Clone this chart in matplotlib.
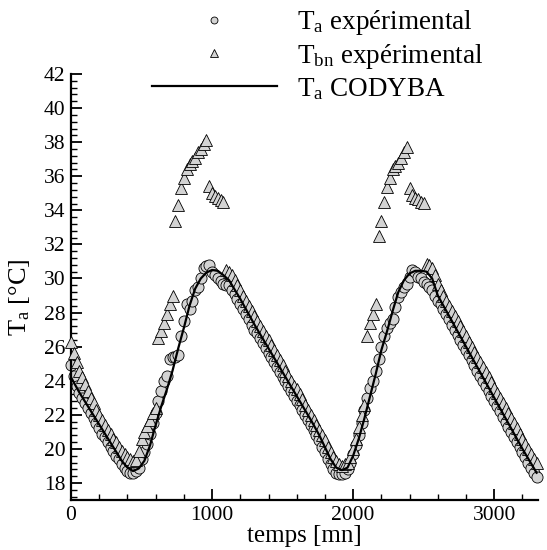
import numpy as np
import matplotlib
matplotlib.use('Agg')
import matplotlib.pyplot as plt
from matplotlib.lines import Line2D
from matplotlib.ticker import MultipleLocator

plt.rcParams.update({'font.family': 'Liberation Serif',
                     'mathtext.fontset': 'custom',
                     'mathtext.rm': 'Liberation Serif',
                     'mathtext.it': 'Liberation Serif:italic',
                     'mathtext.default': 'regular'})

# measurements every 20 min
t_exp = np.arange(0, 3301, 20)

# T_a experimental (circles)
ta_exp = [24.9, 24.3, 23.7, 23.3, 23.0, 22.7, 22.4, 22.1, 21.8, 21.5,
          21.2, 20.9, 20.7, 20.4, 20.1, 19.9, 19.6, 19.4, 19.1, 18.9,
          18.7, 18.6, 18.6, 18.7, 18.9, 19.4, 19.8, 20.3, 20.9, 21.5,
          22.1, 22.8, 23.4, 24.0, 24.3, 25.3, 25.4, 25.4, 25.5, 26.6,
          27.5, 28.5, 28.2, 28.7, 29.3, 29.5, 30.0, 30.6, 30.75, 30.8,
          30.4, 30.2, 30.0, 29.85, 29.7, 29.6, 29.6, 29.3, 29.1, 28.8,
          28.5, 28.2, 27.9, 27.6, 27.3, 27.0, 26.8, 26.5, 26.2, 25.9,
          25.6, 25.4, 25.1, 24.8, 24.5, 24.2, 24.0, 23.7, 23.4, 23.1,
          22.8, 22.6, 22.3, 22.0, 21.7, 21.4, 21.1, 20.8, 20.5, 20.1,
          19.8, 19.4, 19.1, 18.8, 18.6, 18.5, 18.5, 18.6, 18.8, 19.2,
          19.7, 20.2, 20.8, 21.5, 22.3, 23.0, 23.6, 24.0, 24.6, 25.3,
          26.0, 26.6, 27.1, 27.4, 27.6, 28.3, 28.9, 29.2, 29.5, 29.7,
          30.1, 30.5, 30.4, 30.1, 30.0, 29.8, 29.7, 29.5, 29.3, 29.0,
          28.7, 28.5, 28.2, 27.9, 27.6, 27.3, 27.0, 26.7, 26.4, 26.1,
          25.8, 25.5, 25.2, 24.9, 24.6, 24.3, 24.0, 23.7, 23.4, 23.1,
          22.8, 22.5, 22.2, 21.9, 21.6, 21.3, 21.0, 20.7, 20.4, 20.1,
          19.8, 19.5, 19.2, 18.9, 18.6, 18.35]

# T_bn experimental (triangles)
tbn_exp = [26.3, 25.6, 25.1, 24.6, 24.2, 23.8, 23.4, 23.0, 22.7, 22.3,
           22.0, 21.7, 21.4, 21.1, 20.9, 20.6, 20.4, 20.1, 19.9, 19.7,
           19.5, 19.4, 19.3, 19.35, 19.9, 20.6, 21.0, 21.35, 21.7, 22.1,
           22.4, 26.5, 26.9, 27.4, 27.9, 28.5, 29.0, 33.4, 34.3, 35.3,
           35.9, 36.4, 36.7, 36.9, 37.1, 37.4, 37.6, 37.9, 38.1, 35.4,
           35.0, 34.85, 34.75, 34.6, 34.5, 30.5, 30.4, 30.2, 29.9, 29.6,
           29.3, 29.0, 28.7, 28.4, 28.1, 27.8, 27.5, 27.2, 26.9, 26.6,
           26.4, 26.1, 25.8, 25.5, 25.2, 24.9, 24.6, 24.3, 24.0, 23.7,
           23.5, 23.2, 22.9, 22.6, 22.3, 22.0, 21.7, 21.4, 21.1, 20.8,
           20.5, 20.1, 19.8, 19.5, 19.3, 19.1, 19.0, 19.1, 19.2, 19.5,
           20.0, 20.6, 21.3, 22.0, 22.6, 26.6, 27.4, 27.9, 28.5, 32.5,
           33.35, 34.5, 35.35, 35.9, 36.4, 36.6, 36.8, 37.1, 37.4, 37.7,
           35.3, 34.9, 34.75, 34.65, 34.5, 34.45, 30.85, 30.8, 30.6, 30.2,
           29.7, 29.3, 29.0, 28.7, 28.4, 28.1, 27.8, 27.5, 27.2, 26.9,
           26.6, 26.3, 26.0, 25.7, 25.4, 25.1, 24.8, 24.5, 24.2, 23.9,
           23.6, 23.3, 23.0, 22.7, 22.4, 22.1, 21.8, 21.5, 21.2, 20.9,
           20.6, 20.3, 20.0, 19.7, 19.4, 19.15]

# CODYBA simulation
t_model = [0, 60, 120, 180, 240, 300, 360, 400, 440, 480, 520, 560, 600, 640,
           680, 720, 760, 800, 840, 880, 920, 960, 1000, 1040, 1080, 1120,
           1200, 1300, 1400, 1500, 1600, 1700, 1760, 1800, 1840, 1880, 1920,
           1960, 2000, 2040, 2080, 2120, 2160, 2200, 2240, 2280, 2320, 2360,
           2400, 2440, 2480, 2520, 2560, 2600, 2700, 2800, 2900, 3000, 3100,
           3200, 3300]
ta_model = [24.2, 23.3, 22.5, 21.7, 20.9, 20.1, 19.3, 18.9, 18.7, 18.85, 19.3,
            20.2, 21.4, 22.5, 23.5, 24.6, 25.9, 27.1, 28.4, 29.4, 30.0, 30.35,
            30.5, 30.45, 30.2, 29.9, 28.8, 27.3, 25.9, 24.5, 23.1, 21.7, 20.8,
            20.1, 19.4, 18.9, 18.75, 18.9, 19.6, 20.6, 21.8, 23.1, 24.4, 25.8,
            26.9, 28.1, 29.2, 29.9, 30.3, 30.45, 30.45, 30.4, 30.0, 29.0, 27.5,
            26.0, 24.5, 23.0, 21.5, 20.0, 18.6]

gray = '#d3d3d3'

fig = plt.figure(figsize=(5.47, 5.5), dpi=100)
ax = fig.add_axes([0.1298, 0.0909, 0.8537, 0.7745])

ax.plot(t_exp, ta_exp, 'o', ms=8, mfc=gray, mec='black', mew=0.6,
        clip_on=False, zorder=2)
ax.plot(t_exp, tbn_exp, '^', ms=9, mfc=gray, mec='black', mew=0.6,
        clip_on=False, zorder=3)
ax.plot(t_model, ta_model, '-', color='black', lw=1.6, zorder=4)

ax.set_xlim(0, 3310)
ax.set_ylim(17, 42)
ax.xaxis.set_major_locator(MultipleLocator(1000))
ax.xaxis.set_minor_locator(MultipleLocator(200))
ax.yaxis.set_major_locator(MultipleLocator(2))
ax.yaxis.set_minor_locator(MultipleLocator(0.4))
ax.tick_params(which='both', direction='in', top=False, right=False,
               labelsize=15.5)
ax.tick_params(which='major', length=8, width=1.3, pad=4)
ax.tick_params(which='minor', length=4.5, width=1.0)
for s in ['top', 'right']:
    ax.spines[s].set_visible(False)
for s in ['left', 'bottom']:
    ax.spines[s].set_linewidth(1.6)

ax.set_xlabel('temps [mn]', fontsize=18, labelpad=0)
ax.set_ylabel('T$_a$ [°C]', fontsize=19)
ax.yaxis.set_label_coords(-0.083, 0.475)

handles = [Line2D([], [], ls='none', marker='o', ms=5, mfc=gray, mec='black', mew=0.6),
           Line2D([], [], ls='none', marker='^', ms=6, mfc=gray, mec='black', mew=0.6),
           Line2D([], [], color='black', lw=1.6)]
labels = ['T$_a$ expérimental', 'T$_{bn}$ expérimental', 'T$_a$ CODYBA']
fig.legend(handles, labels, loc='upper left', bbox_to_anchor=(152 / 547, 1 - 8 / 550),
           frameon=False, fontsize=19.5, handlelength=4.6, handletextpad=0.74,
           labelspacing=0.18, borderpad=0, borderaxespad=0)

fig.savefig('out.png', dpi=100)
